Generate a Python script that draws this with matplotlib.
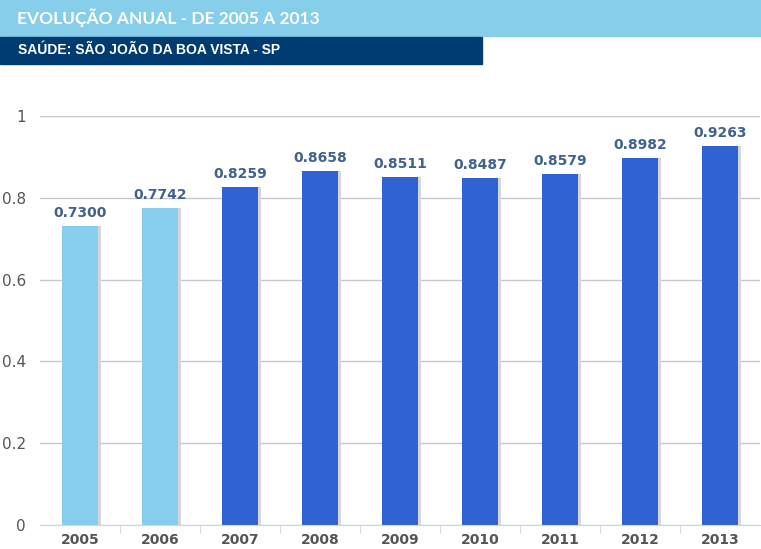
import matplotlib.pyplot as plt
from matplotlib.patches import Rectangle

years = ["2005", "2006", "2007", "2008", "2009", "2010", "2011", "2012", "2013"]
values = [0.7300, 0.7742, 0.8259, 0.8658, 0.8511, 0.8487, 0.8579, 0.8982, 0.9263]
colors = ["#87CEEE", "#87CEEE"] + ["#2F62D2"] * 7

fig = plt.figure(figsize=(7.61, 5.49), dpi=100)

# header bands
fig.patches.append(Rectangle((0, 1 - 36 / 549), 1, 36 / 549, transform=fig.transFigure,
                             color="#87CEEB", zorder=0))
fig.patches.append(Rectangle((0, 1 - 64 / 549), 482 / 761, 27 / 549, transform=fig.transFigure,
                             color="#003B71", zorder=0))
fig.text(17 / 761, 1 - 18 / 549, "EVOLUÇÃO ANUAL - DE 2005 A 2013", family="Lato",
         weight="bold", fontsize=12.5, color="white", va="center")
fig.text(18 / 761, 1 - 50 / 549, "SAÚDE: SÃO JOÃO DA BOA VISTA - SP", family="Liberation Sans",
         weight="bold", fontsize=10, color="white", va="center")

ax = fig.add_axes([40 / 761, 1 - 525 / 549, 720 / 761, (525 - 116) / 549])
x = range(len(years))
ax.bar([i + 0.035 for i in x], values, width=0.45, color="#D6D6D6", zorder=2)
ax.bar(x, values, width=0.45, color=colors, zorder=3)
for i, v in zip(x, values):
    ax.text(i, v + 0.015, f"{v:.4f}", ha="center", va="bottom", fontsize=10,
            weight="bold", color="#41628F", zorder=4)

ax.set_xlim(-0.5, len(years) - 0.5)
ax.set_ylim(0, 1)
ax.set_yticks([0, 0.2, 0.4, 0.6, 0.8, 1])
ax.set_yticklabels(["0", "0.2", "0.4", "0.6", "0.8", "1"])
ax.yaxis.grid(True, color="#C8C8C8", linewidth=1, zorder=0)
ax.set_xticks(list(x))
ax.set_xticklabels(years, fontsize=10, weight="bold", color="#555555")
ax.set_xticks([i + 0.5 for i in range(len(years) - 1)], minor=True)
ax.tick_params(axis="x", which="major", length=0, pad=6)
ax.tick_params(axis="x", which="minor", length=6, color="#CCD6EB")
ax.tick_params(axis="y", length=0, labelsize=11, labelcolor="#555555", pad=10)
for s in ["top", "right", "left"]:
    ax.spines[s].set_visible(False)
ax.spines["bottom"].set_color("#CCD6EB")
ax.spines["bottom"].set_zorder(5)

plt.savefig("out.png", dpi=100)
